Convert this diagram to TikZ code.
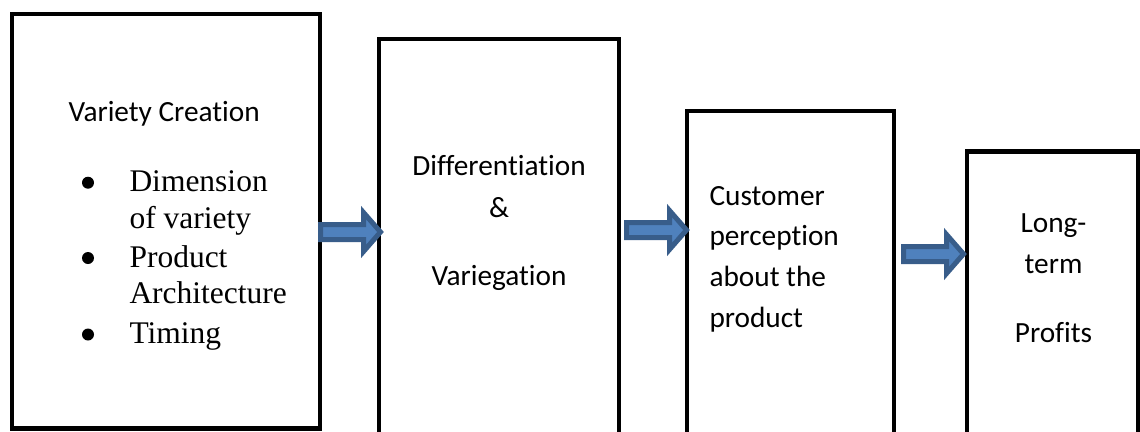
\documentclass[tikz,border=0pt]{standalone}
\usepackage{fontspec}
\setmainfont{Liberation Serif}
\newfontfamily\carlfont[Ligatures=NoCommon, RawFeature=-liga]{Carlito}
\usetikzlibrary{calc}
\definecolor{arrowfill}{HTML}{4F81BD}
\definecolor{arrowline}{HTML}{385D8A}
\tikzset{
  box/.style={draw=black, line width=4.8pt, fill=white, rectangle, inner sep=0pt, outer sep=0pt, anchor=north west},
  sanstext/.style={font=\carlfont\fontsize{29.3}{35}\selectfont, inner sep=0pt, outer sep=0pt},
  seriftext/.style={font=\fontsize{31.5}{37}\selectfont, inner sep=0pt, outer sep=0pt, anchor=base west},
  bulletdot/.style={circle, fill=black, inner sep=0pt, minimum size=12pt},
  blockarrow/.style={fill=arrowfill, draw=arrowline, line width=5pt, line join=miter}
}
\newcommand\blkarrow[1]{%
  \draw[blockarrow] ($(#1)+(0,-7.5)$) -- ++(43,0) -- ++(0,-12) -- ($(#1)+(60,0)$)
    -- ($(#1)+(43,19.5)$) -- ++(0,-12) -- ($(#1)+(0,7.5)$) -- cycle;}
\begin{document}
\begin{tikzpicture}[x=1pt, y=-1pt]
\useasboundingbox (0,0) rectangle (1140,431);
\clip (0,0) rectangle (1140,431);
\fill[white] (0,0) rectangle (1140,431);

% boxes
\node[box, minimum width=308pt, minimum height=414.5pt] (b1) at (12,14) {};
\node[box, minimum width=240pt, minimum height=395pt] (b2) at (379,39) {};
\node[box, minimum width=207pt, minimum height=323pt] (b3) at (687,111) {};
\node[box, minimum width=171.5pt, minimum height=282.5pt] (b4) at (967,151.5) {};

% box 1 text
\node[sanstext, anchor=base west] (t1) at (68.5,121) {Variety Creation};
\node[bulletdot] (d1) at (88,182.7) {};
\node[bulletdot] (d2) at (88,258) {};
\node[bulletdot] (d3) at (88,334.5) {};
\node[seriftext] (i1a) at (129.5,191.5) {Dimension};
\node[seriftext] (i1b) at (129.5,228) {of variety};
\node[seriftext] (i2a) at (129.5,267) {Product};
\node[seriftext] (i2b) at (129.5,303) {Architecture};
\node[seriftext] (i3) at (129.5,343) {Timing};

% box 2 text
\node[sanstext, anchor=base] (t2a) at (499,175) {Differentiation};
\node[sanstext, anchor=base] (t2b) at (499,217) {\&};
\node[sanstext, anchor=base] (t2c) at (499,285) {Variegation};

% box 3 text
\node[sanstext, anchor=base west] (t3a) at (709.5,205) {Customer};
\node[sanstext, anchor=base west] (t3b) at (709.5,245.5) {perception};
\node[sanstext, anchor=base west] (t3c) at (709.5,286.5) {about the};
\node[sanstext, anchor=base west] (t3d) at (709.5,327) {product};

% box 4 text
\node[sanstext, anchor=base] (t4a) at (1053.5,232) {Long-};
\node[sanstext, anchor=base] (t4b) at (1053.5,273) {term};
\node[sanstext, anchor=base] (t4c) at (1053.5,342) {Profits};

% arrows
\coordinate (a1) at ($(b1.east |- 0,232)+(0.5,0)$);
\coordinate (a2) at ($(b2.east |- 0,230)+(7.5,0)$);
\coordinate (a3) at ($(b3.east |- 0,254)+(9.5,0)$);
\blkarrow{a1}
\blkarrow{a2}
\blkarrow{a3}
\end{tikzpicture}
\end{document}
